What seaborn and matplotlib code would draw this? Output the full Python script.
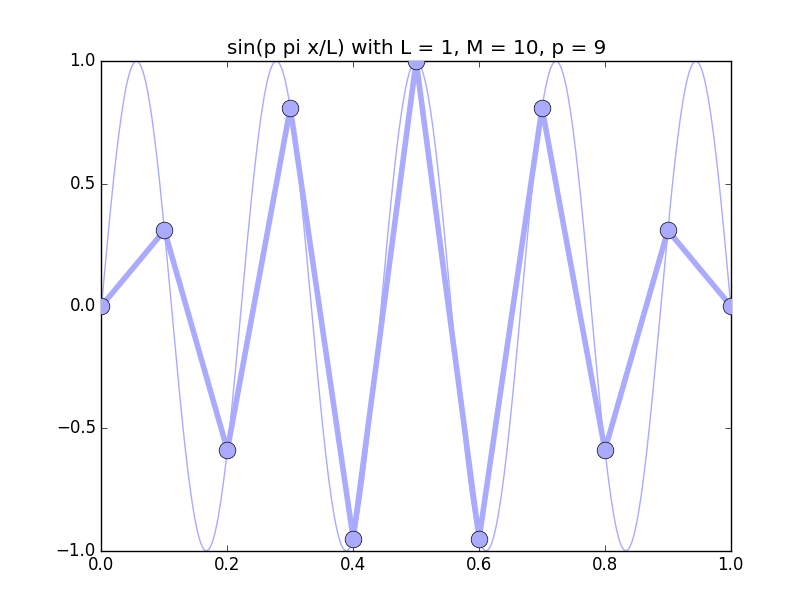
import numpy as np
import pandas as pd
import matplotlib
matplotlib.use("Agg")
import matplotlib.pyplot as plt
import seaborn as sns

# Parameters from the title
L = 1
M = 10
p = 9

x_samples = [0.0, 0.1, 0.2, 0.3, 0.4, 0.5, 0.6, 0.7, 0.8, 0.9, 1.0]
y_samples = [0.0, 0.309, -0.588, 0.809, -0.951, 1.0, -0.951, 0.809, -0.588, 0.309, 0.0]

# Continuous function named in the title
x_fine = np.linspace(0, L, 500)
y_fine = np.sin(p * np.pi * x_fine / L)

plt.style.use("classic")
plt.rcParams["figure.facecolor"] = "white"
plt.rcParams["savefig.facecolor"] = "white"
plt.rcParams["font.family"] = ["DejaVu Sans"]

fig, ax = plt.subplots(figsize=(8.12, 6.12), dpi=100)
fig.subplots_adjust(left=0.125, right=0.9, bottom=0.1, top=0.9)

color = "#aaaaff"
df_fine = pd.DataFrame({"x": x_fine, "y": y_fine})
df_s = pd.DataFrame({"x": x_samples, "y": y_samples})

sns.lineplot(data=df_fine, x="x", y="y", ax=ax, color=color, linewidth=1, sort=False)
sns.lineplot(data=df_s, x="x", y="y", ax=ax, color=color, linewidth=4, sort=False)
ax.plot(df_s["x"], df_s["y"], linestyle="none", marker="o", markersize=12,
        markerfacecolor=color, markeredgecolor="black", markeredgewidth=0.5,
        zorder=5)

ax.set_xlim(0, 1)
ax.set_ylim(-1, 1)
ax.set_xticks([0.0, 0.2, 0.4, 0.6, 0.8, 1.0])
ax.set_yticks([-1.0, -0.5, 0.0, 0.5, 1.0])
ax.set_xlabel("")
ax.set_ylabel("")
ax.set_title("sin(p pi x/L) with L = 1, M = 10, p = 9")

fig.savefig("out.png", dpi=100)
